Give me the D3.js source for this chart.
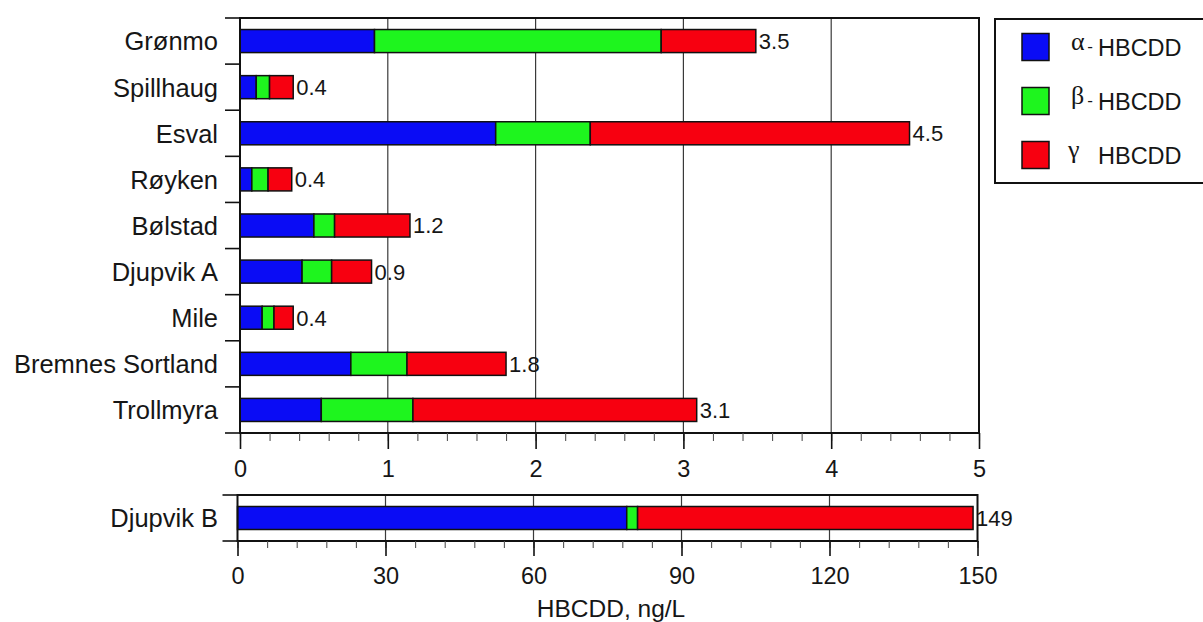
<!DOCTYPE html>
<html>
<head>
<meta charset="utf-8">
<script src="https://cdn.jsdelivr.net/npm/d3@7"></script>
<style>
  html, body { margin: 0; padding: 0; background: #fff; }
  svg { display: block; font-family: "Liberation Sans", Arial, Helvetica, sans-serif; }
</style>
</head>
<body>
<svg id="chart" width="1203" height="622"></svg>
<script>
// ---- Data ----
const categories = ["Grønmo", "Spillhaug", "Esval", "Røyken", "Bølstad", "Djupvik A", "Mile", "Bremnes Sortland", "Trollmyra"];
const alphaValues = [0.91, 0.11, 1.73, 0.08, 0.50, 0.42, 0.15, 0.75, 0.55];
const betaValues  = [1.94, 0.09, 0.64, 0.11, 0.14, 0.20, 0.08, 0.38, 0.62];
const gammaValues = [0.64, 0.16, 2.16, 0.16, 0.51, 0.27, 0.13, 0.67, 1.92];
const totalLabels = ["3.5", "0.4", "4.5", "0.4", "1.2", "0.9", "0.4", "1.8", "3.1"];

const categoriesB = ["Djupvik B"];
const alphaB = [78.9];
const betaB  = [2.2];
const gammaB = [68.0];
const totalLabelsB = ["149"];

const seriesKeys = ["alpha", "beta", "gamma"];
const legendGreek = ["α", "β", "γ"];
const legendSep = ["-", "-", ""];
const legendRest = ["HBCDD", "HBCDD", "HBCDD"];

const topTicks = [0, 1, 2, 3, 4, 5];
const topMinorTicks = d3.range(0, 26).map(i => i / 5);
const bottomTicks = [0, 30, 60, 90, 120, 150];
const bottomMinorTicks = d3.range(0, 26).map(i => i * 6);
const axisTitle = "HBCDD, ng/L";

// ---- Styles ----
const colors = { alpha: "#0a0cf5", beta: "#1ef51e", gamma: "#f70010" };
const textColor = "#161616";

const svg = d3.select("#chart");

function drawPanel(opts) {
  const { cats, a, b, g, labels, x, y, xTicks, xMinor, tickFmt, majorLen, minorLen } = opts;
  const rows = cats.map((c, i) => ({ cat: c, alpha: a[i], beta: b[i], gamma: g[i], label: labels[i] }));
  const [x0, x1] = x.range();
  const [y0, y1] = y.range();

  // gridlines
  svg.append("g").selectAll("line")
    .data(xTicks.slice(1, -1)).join("line")
    .attr("x1", d => x(d)).attr("x2", d => x(d))
    .attr("y1", y0).attr("y2", y1)
    .attr("stroke", "#3a3a3a").attr("stroke-width", 1.2);

  // stacked bars
  const stack = d3.stack().keys(seriesKeys)(rows);
  svg.append("g").selectAll("g")
    .data(stack).join("g")
    .attr("fill", d => colors[d.key])
    .selectAll("rect").data(d => d).join("rect")
    .attr("x", d => x(d[0]))
    .attr("width", d => x(d[1]) - x(d[0]))
    .attr("y", d => y(d.data.cat))
    .attr("height", y.bandwidth())
    .attr("stroke", "#111").attr("stroke-width", 1.5);

  // value labels
  svg.append("g").selectAll("text")
    .data(rows).join("text")
    .attr("x", d => x(d.alpha + d.beta + d.gamma) + 3)
    .attr("y", d => y(d.cat) + y.bandwidth() / 2)
    .attr("dy", "0.36em")
    .attr("font-size", 22)
    .attr("fill", textColor)
    .text(d => d.label);

  // frame
  svg.append("rect")
    .attr("x", x0).attr("y", y0)
    .attr("width", x1 - x0).attr("height", y1 - y0)
    .attr("fill", "none").attr("stroke", "#111").attr("stroke-width", 2);

  // category boundary ticks (left)
  const bounds = d3.range(cats.length + 1).map(i => y0 + i * y.step());
  svg.append("g").selectAll("line")
    .data(bounds).join("line")
    .attr("x1", x0 - 15).attr("x2", x0)
    .attr("y1", d => d).attr("y2", d => d)
    .attr("stroke", "#111").attr("stroke-width", 1.6);

  // category labels
  svg.append("g").selectAll("text")
    .data(cats).join("text")
    .attr("x", 218)
    .attr("y", d => y(d) + y.bandwidth() / 2)
    .attr("dy", "0.37em")
    .attr("text-anchor", "end")
    .attr("font-size", 25.5)
    .attr("fill", textColor)
    .text(d => d);

  // minor ticks
  const minorAxis = svg.append("g")
    .attr("transform", `translate(0,${y1})`)
    .call(d3.axisBottom(x).tickValues(xMinor).tickSize(minorLen).tickFormat(""));
  minorAxis.select(".domain").remove();
  minorAxis.selectAll("line").attr("stroke", "#555").attr("stroke-width", 1.1);

  // major ticks
  const majorAxis = svg.append("g")
    .attr("transform", `translate(0,${y1})`)
    .call(d3.axisBottom(x).tickValues(xTicks).tickSize(majorLen).tickPadding(11).tickFormat(tickFmt));
  majorAxis.select(".domain").remove();
  majorAxis.selectAll("line").attr("stroke", "#111").attr("stroke-width", 1.6);
  majorAxis.selectAll("text")
    .attr("font-family", "'Liberation Sans', Arial, Helvetica, sans-serif")
    .attr("font-size", 23.5).attr("fill", textColor);
}

// Top panel
const xTop = d3.scaleLinear().domain([0, 5]).range([240, 979]);
const yTop = d3.scaleBand().domain(categories).range([18, 433]).paddingInner(0.5).paddingOuter(0.25);
drawPanel({
  cats: categories, a: alphaValues, b: betaValues, g: gammaValues, labels: totalLabels,
  x: xTop, y: yTop, xTicks: topTicks, xMinor: topMinorTicks, tickFmt: d3.format("d"),
  majorLen: 16, minorLen: 8
});

// Bottom panel
const xBot = d3.scaleLinear().domain([0, 150]).range([237.5, 977.5]);
const yBot = d3.scaleBand().domain(categoriesB).range([495, 541]).paddingInner(0.5).paddingOuter(0.25);
drawPanel({
  cats: categoriesB, a: alphaB, b: betaB, g: gammaB, labels: totalLabelsB,
  x: xBot, y: yBot, xTicks: bottomTicks, xMinor: bottomMinorTicks, tickFmt: d3.format("d"),
  majorLen: 15, minorLen: 7
});

// Axis title
svg.append("text")
  .attr("x", 611).attr("y", 617)
  .attr("text-anchor", "middle")
  .attr("font-size", 24.5)
  .attr("fill", textColor)
  .text(axisTitle);

// Legend
const legend = svg.append("g");
legend.append("rect")
  .attr("x", 995).attr("y", 19).attr("width", 230).attr("height", 164)
  .attr("fill", "none").attr("stroke", "#111").attr("stroke-width", 2);

const legendY = d3.scalePoint().domain(seriesKeys).range([47, 155]);
const items = legend.selectAll("g.item").data(seriesKeys).join("g").attr("class", "item");
items.append("rect")
  .attr("x", 1022).attr("y", d => legendY(d) - 13.5)
  .attr("width", 27).attr("height", 27)
  .attr("fill", d => colors[d])
  .attr("stroke", "#111").attr("stroke-width", 1.5);
// main label text
items.append("text")
  .attr("x", 1098).attr("y", d => legendY(d) + 8.5)
  .attr("font-size", 23.5).attr("fill", textColor)
  .text((d, i) => legendRest[i]);
// greek prefix (serif, raised)
items.append("text")
  .attr("x", (d, i) => i === 2 ? 1068 : 1071)
  .attr("y", d => legendY(d) + 3)
  .attr("font-family", "'Liberation Serif', 'DejaVu Serif', serif")
  .attr("font-size", 26)
  .attr("fill", textColor)
  .text((d, i) => legendGreek[i]);
// separator
items.append("text")
  .attr("x", 1093).attr("y", d => legendY(d) + 4.5)
  .attr("text-anchor", "end")
  .attr("font-size", 17)
  .attr("fill", textColor)
  .text((d, i) => legendSep[i]);
</script>
</body>
</html>
